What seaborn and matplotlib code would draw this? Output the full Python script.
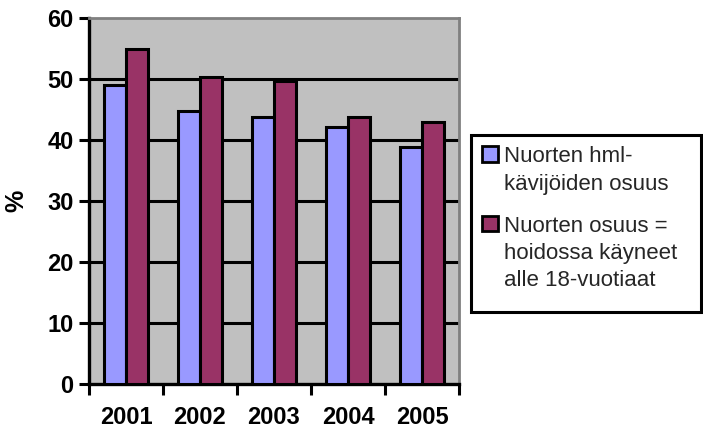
import matplotlib
matplotlib.use("Agg")
import matplotlib.pyplot as plt
import matplotlib.patches as mpatches
import seaborn as sns
import pandas as pd
from matplotlib.ticker import MultipleLocator, FixedLocator, NullFormatter

years = ["2001", "2002", "2003", "2004", "2005"]
series_names = [
    "Nuorten hml-\nkävijöiden osuus",
    "Nuorten osuus =\nhoidossa käyneet\nalle 18-vuotiaat",
]
visitors_share = [49.0, 44.7, 43.7, 42.1, 38.8]
youth_share = [54.9, 50.3, 49.6, 43.8, 43.0]

df = pd.DataFrame({
    "year": years * 2,
    "series": [series_names[0]] * len(years) + [series_names[1]] * len(years),
    "value": visitors_share + youth_share,
})

sns.set_theme(style="white")
plt.rcParams["font.family"] = ["Liberation Sans", "DejaVu Sans"]

W, H = 703, 433
fig = plt.figure(figsize=(W / 100, H / 100), dpi=100)
ax = fig.add_axes([89 / W, 1 - 384 / H, 370 / W, 366 / H])
ax.set_facecolor("#C0C0C0")

sns.barplot(data=df, x="year", y="value", hue="series",
            palette=["#9999FF", "#993366"], width=0.6, dodge=True,
            edgecolor="black", linewidth=2.2, saturation=1, ax=ax, zorder=3)

ax.set_ylim(0, 60)
ax.set_xlim(-0.5, len(years) - 0.5)
ax.yaxis.set_major_locator(MultipleLocator(10))
for v in range(10, 60, 10):
    ax.axhline(v, color="black", lw=2.2, zorder=1)

# category boundary ticks on the x axis
ax.xaxis.set_minor_locator(FixedLocator([i - 0.5 for i in range(len(years) + 1)]))
ax.xaxis.set_minor_formatter(NullFormatter())
ax.tick_params(axis="x", which="major", length=0, pad=16)
ax.tick_params(axis="x", which="minor", length=8, width=2.2, color="black", direction="out")
ax.tick_params(axis="y", which="major", length=7, width=2.2, color="black", direction="out", pad=4)
ax.xaxis.set_ticks_position("bottom")
ax.yaxis.set_ticks_position("left")

for lab in ax.get_xticklabels() + ax.get_yticklabels():
    lab.set_fontweight("bold")
    lab.set_fontsize(17)
    lab.set_color("black")

ax.set_xlabel("")
ax.set_ylabel("%", fontsize=18, fontweight="bold", labelpad=14, color="black")

for side in ("left", "bottom"):
    ax.spines[side].set_color("black")
    ax.spines[side].set_linewidth(2.4)
for side in ("top", "right"):
    ax.spines[side].set_color("#808080")
    ax.spines[side].set_linewidth(2)
    ax.spines[side].set_visible(True)

handles, labels = ax.get_legend_handles_labels()
for h in handles:
    h.set_linewidth(2)
ax.legend(handles, labels, loc="upper left", bbox_to_anchor=(471 / W, 1 - 135 / H),
          bbox_transform=fig.transFigure, frameon=False,
          fontsize=16, handlelength=0.72, handleheight=0.72,
          handletextpad=0.25, labelspacing=0.95, borderpad=0.5, borderaxespad=0)
leg = ax.get_legend()
for t in leg.get_texts():
    t.set_linespacing(1.4)
# put each colour square beside the first line of its label
for column in leg._legend_handle_box.get_children():
    for item in column.get_children():
        item.align = "top"

# legend border box
fig.patches.append(mpatches.Rectangle((471 / W, 1 - 312 / H), 230 / W, 177 / H,
                                      transform=fig.transFigure, fill=False,
                                      edgecolor="black", linewidth=2.2))

fig.savefig("out.png", dpi=100, facecolor="white")
